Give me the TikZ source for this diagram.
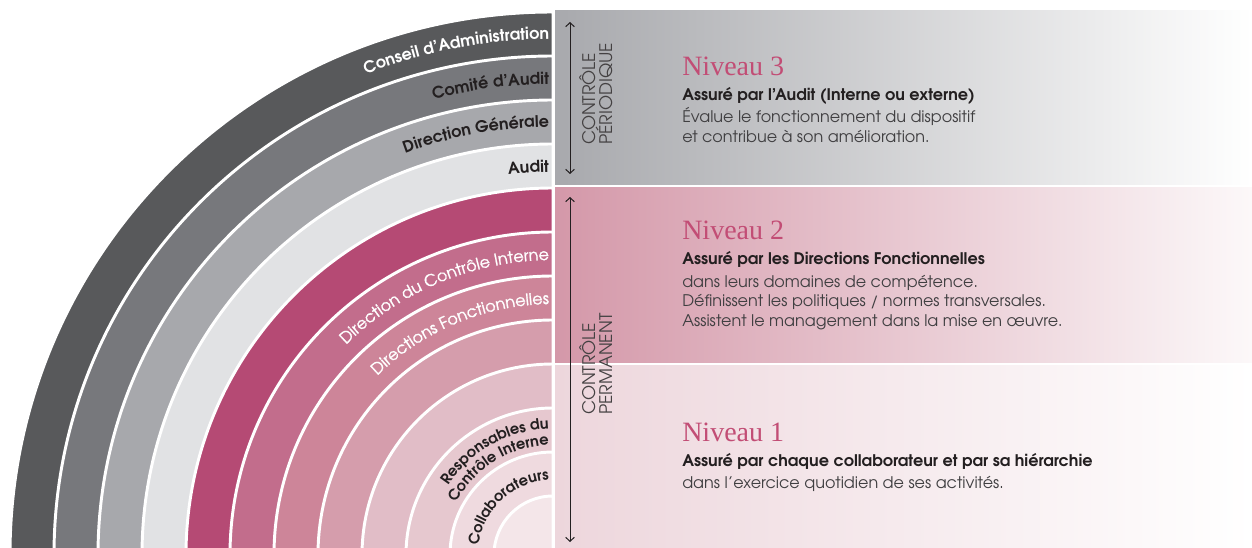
\documentclass[tikz,border=0pt]{standalone}
\usepackage{fontspec}
\setmainfont{TeX Gyre Adventor}
\newfontfamily\nivfont{Liberation Serif}
\newfontfamily\medfont[FakeBold=1.3]{TeX Gyre Adventor}
\usetikzlibrary{decorations.text,arrows.meta,calc}
\definecolor{r1}{HTML}{58595B}
\definecolor{r2}{HTML}{77787C}
\definecolor{r3}{HTML}{A7A8AC}
\definecolor{r4}{HTML}{E1E2E4}
\definecolor{r5}{HTML}{B54A74}
\definecolor{r6}{HTML}{C26D8C}
\definecolor{r7}{HTML}{CD8599}
\definecolor{r8}{HTML}{D59DAC}
\definecolor{r9}{HTML}{E1BDC7}
\definecolor{r10}{HTML}{E6C8CF}
\definecolor{r11}{HTML}{EFDADF}
\definecolor{r12}{HTML}{F4E6E9}
\definecolor{ink}{HTML}{231F20}
\definecolor{bodyc}{HTML}{403F41}
\definecolor{nivc}{HTML}{C24D75}
\definecolor{p3l}{HTML}{A8A9AD}
\definecolor{p3m}{HTML}{D1D2D4}
\definecolor{p2l}{HTML}{D498A9}
\definecolor{p2m}{HTML}{E8C7D0}
\definecolor{p2r}{HTML}{FCF8F9}
\definecolor{p1l}{HTML}{EDD6DC}
\definecolor{p1m}{HTML}{F5E9EC}
\newcommand\ringB{\bfseries\fontsize{12}{14}\selectfont}
\newcommand\ringS{\bfseries\fontsize{11}{13}\selectfont}
\newcommand\ringM{\medfont\fontsize{12}{14}\selectfont}
\begin{document}
\begin{tikzpicture}[x=0.75pt,y=0.75pt,
  ring/.style={fill=#1, draw=white, line width=2.2pt},
  ringlbl/.style={decorate, decoration={text along path, text align={right, right indent=3pt}, text={#1}}},
  nivtext/.style={font=\nivfont\fontsize{21}{24}\selectfont, text=nivc, anchor=base west, inner sep=0pt},
  boldtext/.style={font=\bfseries\fontsize{12}{14}\selectfont, text=ink, anchor=base west, inner sep=0pt},
  bodytext/.style={font=\fontsize{12}{14}\selectfont, text=bodyc, anchor=base west, inner sep=0pt},
  ctltext/.style={font=\fontsize{13}{12.8}\selectfont, text=ink!85, rotate=90, anchor=north west, align=left, inner sep=0pt},
  ctlarrow/.style={{Straight Barb[length=3pt,width=6.5pt]}-{Straight Barb[length=3pt,width=6.5pt]}, line width=0.75pt, draw=ink},
]
\useasboundingbox (0,0) rectangle (1252,547);
\clip (0,0) rectangle (1252,547);
\coordinate (C) at (553,-8);
% rings
\foreach \r/\c in {543/r1,499/r2,455/r3,411/r4,367/r5,323/r6,279/r7,235/r8,191/r9,147/r10,103/r11,59/r12}{
  \path[ring=\c] (C) -- ($(C)+(180:\r)$) arc[start angle=180,end angle=90,radius=\r] -- cycle;
}
% ring labels
\path[ringlbl={|\ringB\color{white}|Conseil d’Administration}] ($(C)+(135:516)$) arc[start angle=135,end angle=90,radius=516];
\path[ringlbl={|\ringB\color{ink}|Comité d’Audit}] ($(C)+(135:471)$) arc[start angle=135,end angle=90,radius=471];
\path[ringlbl={|\ringB\color{ink}|Direction Générale}] ($(C)+(135:428)$) arc[start angle=135,end angle=90,radius=428];
\path[ringlbl={|\ringB\color{ink}|Audit}] ($(C)+(135:383)$) arc[start angle=135,end angle=90,radius=383];
\path[ringlbl={|\ringM\color{white}|Direction du Contrôle Interne}] ($(C)+(160:295)$) arc[start angle=160,end angle=90,radius=295];
\path[ringlbl={|\ringM\color{white}|Directions Fonctionnelles}] ($(C)+(170:251)$) arc[start angle=170,end angle=90,radius=251];
\path[ringlbl={|\ringS\color{ink}|Responsables du}] ($(C)+(185:126)$) arc[start angle=185,end angle=90,radius=126];
\path[ringlbl={|\ringS\color{ink}|Contrôle Interne}] ($(C)+(195:110)$) arc[start angle=195,end angle=90,radius=110];
\path[ringlbl={|\ringS\color{ink}|Collaborateurs}] ($(C)+(215:75)$) arc[start angle=215,end angle=90,radius=75];
% panels
\shade[left color=p3l, middle color=p3m, right color=white] (555,362) rectangle (1252,536);
\shade[left color=p2l, middle color=p2m, right color=p2r] (555,185) rectangle (1252,359);
\shade[left color=p1l, middle color=p1m, right color=white] (555,0) rectangle (1252,182);
% control arrows
\coordinate (a1t) at (570,525);
\coordinate (a1b) at (570,373);
\coordinate (a2t) at (570,350);
\coordinate (a2b) at (570,5);
\draw[ctlarrow] (a1b) -- (a1t);
\draw[ctlarrow] (a2b) -- (a2t);
\node[ctltext] (cper) at (579,402) {CONTRÔLE\\PÉRIODIQUE};
\node[ctltext] (cperm) at (579,132) {CONTRÔLE\\PERMANENT};
% level 3
\node[nivtext] (n3) at (682,471) {Niveau 3};
\node[boldtext] (b3) at (682,446) {Assuré par l’Audit (Interne ou externe)};
\node[bodytext] (l3a) at (682,424) {Évalue le fonctionnement du dispositif};
\node[bodytext] (l3b) at (682,404) {et contribue à son amélioration.};
% level 2
\node[nivtext] (n2) at (682,307) {Niveau 2};
\node[boldtext] (b2) at (682,283) {Assuré par les Directions Fonctionnelles};
\node[bodytext] (l2a) at (682,260) {dans leurs domaines de compétence.};
\node[bodytext] (l2b) at (682,241) {Définissent les politiques / normes transversales.};
\node[bodytext] (l2c) at (682,221) {Assistent le management dans la mise en œuvre.};
% level 1
\node[nivtext] (n1) at (682,106) {Niveau 1};
\node[boldtext] (b1) at (682,81) {Assuré par chaque collaborateur et par sa hiérarchie};
\node[bodytext] (l1a) at (682,59) {dans l’exercice quotidien de ses activités.};
\end{tikzpicture}
\end{document}
